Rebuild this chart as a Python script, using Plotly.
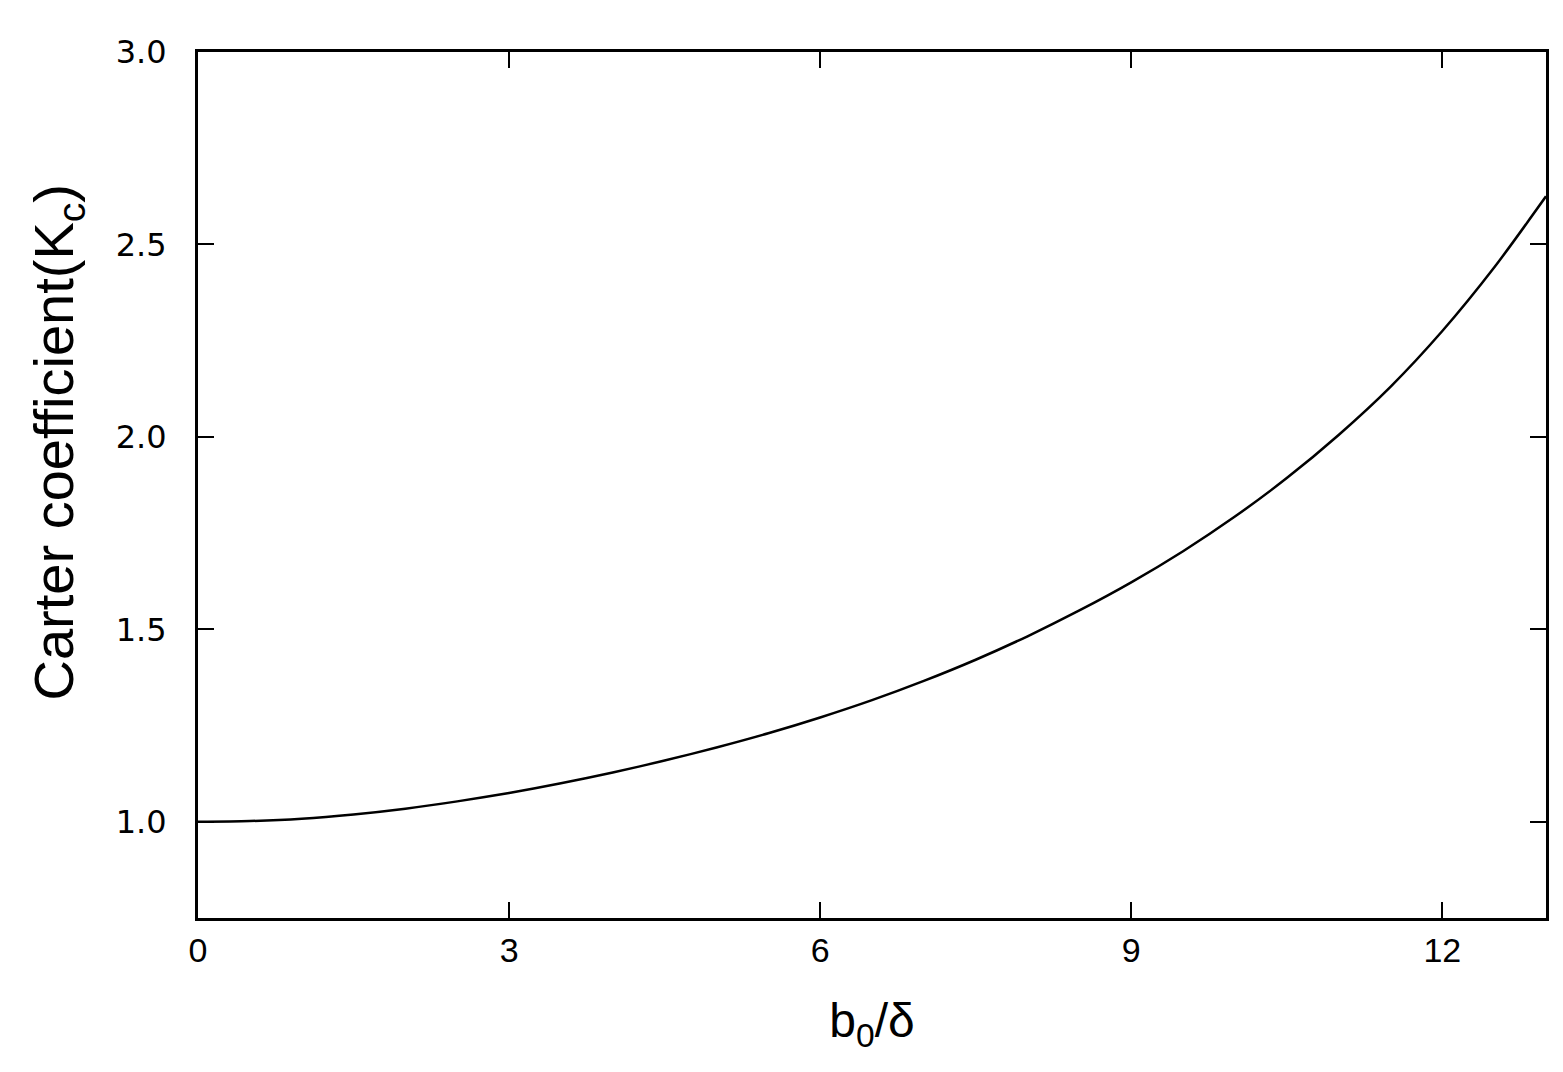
import plotly.graph_objects as go

# b0/delta and Carter coefficient (every half unit)
ratio = [0, 0.5, 1, 1.5, 2, 2.5, 3, 3.5, 4, 4.5, 5, 5.5, 6, 6.5, 7, 7.5,
         8, 8.5, 9, 9.5, 10, 10.5, 11, 11.5, 12, 12.5, 13]
carter = [1.000, 1.002, 1.008, 1.019, 1.034, 1.053, 1.075, 1.100, 1.128,
          1.159, 1.193, 1.230, 1.271, 1.316, 1.366, 1.421, 1.482, 1.549,
          1.622, 1.703, 1.793, 1.893, 2.005, 2.130, 2.275, 2.440, 2.625]

x_ticks = [0, 3, 6, 9, 12]
y_ticks = [1.0, 1.5, 2.0, 2.5, 3.0]

fig = go.Figure()

fig.add_trace(
    go.Scatter(
        x=ratio, y=carter,
        mode='lines',
        line=dict(color='black', width=2.5, shape='spline', smoothing=0.8),
        showlegend=False
    )
)

fig.update_xaxes(
    range=[0, 13],
    tickvals=x_ticks,
    ticktext=[str(v) for v in x_ticks],
    ticks='inside', ticklen=16, tickwidth=2, tickcolor='black',
    showline=True, linewidth=3, linecolor='black', mirror='ticks',
    showgrid=False, zeroline=False,
    ticklabelstandoff=0,
    tickfont=dict(family='Liberation Sans, Arial', size=34, color='black'),
    title=dict(text='b<sub>0</sub>/δ',
               font=dict(family='Liberation Sans, Arial', size=48, color='black'),
               standoff=36),
)

fig.update_yaxes(
    range=[0.75, 3.0],
    tickvals=y_ticks,
    ticktext=['%.1f' % v for v in y_ticks],
    ticks='inside', ticklen=16, tickwidth=2, tickcolor='black',
    showline=True, linewidth=3, linecolor='black', mirror='ticks',
    showgrid=False, zeroline=False,
    ticklabelstandoff=22,
    tickfont=dict(family='DejaVu Sans, Arial', size=32, color='black'),
)

# y title placed by hand: it sits a little above the plot centre in the reference
fig.add_annotation(
    text='Carter coefficient(K<sub>c</sub>)',
    textangle=-90,
    xref='paper', yref='paper',
    x=-0.104, y=0.55,
    xanchor='center', yanchor='middle',
    showarrow=False,
    font=dict(family='Liberation Sans, Arial', size=56, color='black'),
)

fig.update_layout(
    width=1563, height=1072,
    autosize=False,
    margin=dict(l=190, r=25, t=44, b=162),
    plot_bgcolor='white',
    paper_bgcolor='white',
)

fig.write_html("out.html")
